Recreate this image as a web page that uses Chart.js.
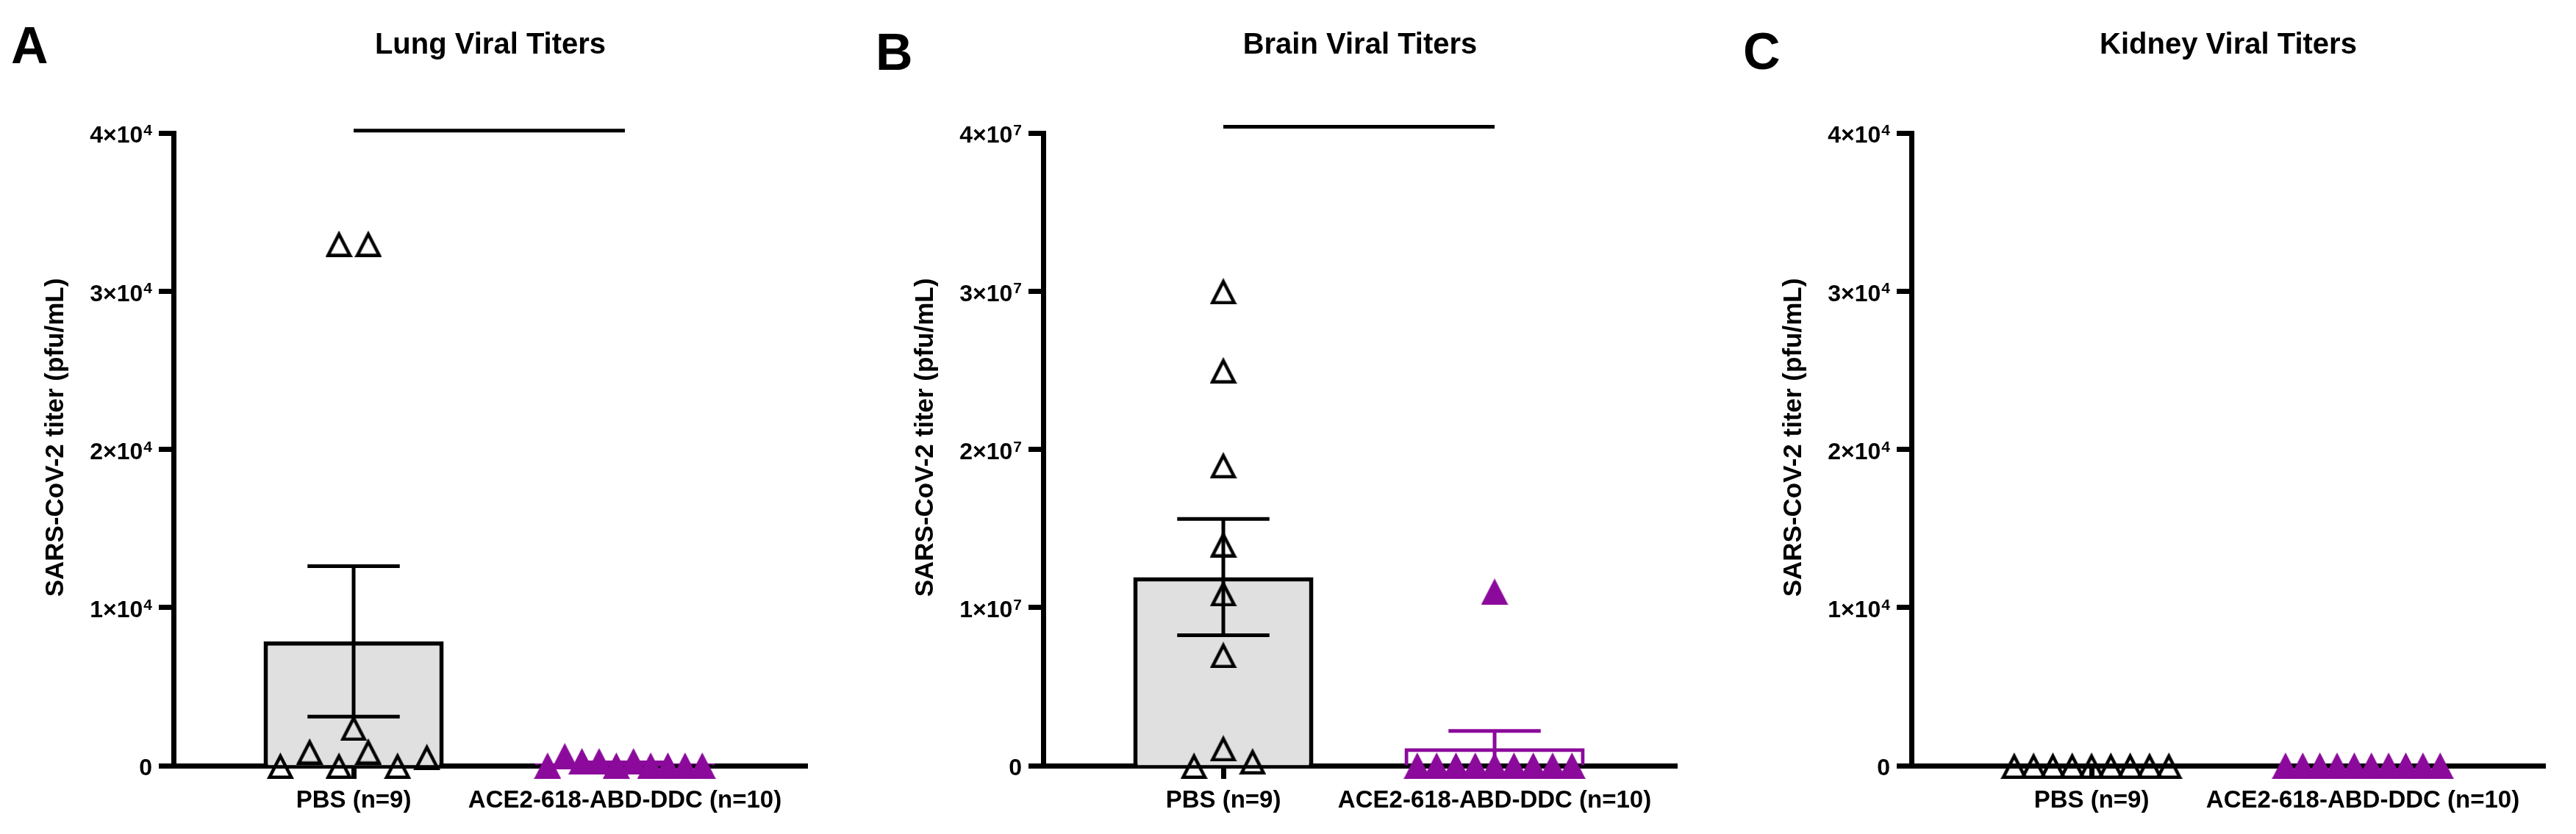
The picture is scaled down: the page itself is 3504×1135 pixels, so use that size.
<!DOCTYPE html>
<html>
<head>
<meta charset="utf-8">
<script src="https://cdn.jsdelivr.net/npm/chart.js@4.4.1/dist/chart.umd.min.js"></script>
<style>
  html, body { margin: 0; padding: 0; background: #fff; width: 3504px; height: 1135px; overflow: hidden; }
  .panel { position: absolute; top: 0; width: 1170px; height: 1135px; }
  .letter { position: absolute; font: bold 70px "Liberation Sans", Arial, sans-serif; line-height: 70px; color: #000; }
</style>
</head>
<body>
<div class="panel" style="left:0px"><canvas id="chartA" width="1170" height="1135"></canvas></div>
<div class="panel" style="left:1183px"><canvas id="chartB" width="1170" height="1135"></canvas></div>
<div class="panel" style="left:2364px"><canvas id="chartC" width="1170" height="1135"></canvas></div>
<div class="letter" style="left:15px;top:27px">A</div>
<div class="letter" style="left:1191px;top:36px">B</div>
<div class="letter" style="left:2371px;top:35px">C</div>
<script>
// ---------------- data ----------------
const categories = ['PBS (n=9)', 'ACE2-618-ABD-DDC (n=10)'];
const panelTitles = ['Lung Viral Titers', 'Brain Viral Titers', 'Kidney Viral Titers'];
const yAxisTitle = 'SARS-CoV-2 titer (pfu/mL)';

const lungPBS  = [0, 900, 0, 900, 0, 550, 2400, 33000, 33000];
const lungACE2 = [0, 600, 280, 280, 0, 280, 0, 0, 0, 0];
const brainPBS  = [30e6, 25e6, 19e6, 14e6, 10.9e6, 7e6, 0, 1.1e6, 0.28e6];
const brainACE2 = [0, 0, 0, 0, 11e6, 0, 0, 0, 0, 0];
const kidneyPBS  = [0, 0, 0, 0, 0, 0, 0, 0, 0];
const kidneyACE2 = [0, 0, 0, 0, 0, 0, 0, 0, 0, 0];

const lungTicks   = ['0', '1×10⁴', '2×10⁴', '3×10⁴', '4×10⁴'];
const brainTicks  = ['0', '1×10⁷', '2×10⁷', '3×10⁷', '4×10⁷'];
const kidneyTicks = ['0', '1×10⁴', '2×10⁴', '3×10⁴', '4×10⁴'];

const axisMax = [4e4, 4e7, 4e4];
const bracketLevel = [40150, 4.04e7, null];   // horizontal comparison line above the groups

// ---------------- styling ----------------
const FONT = '"Liberation Sans", Arial, Helvetica, sans-serif';
const PURPLE = '#8b0a9b';
const BAR_GREY = '#e0e0e0';
const Y_TITLE_SHIFT = -16;

Chart.defaults.font.family = FONT;
Chart.defaults.color = '#000';

// y scale with superscript exponents in tick labels
const SUP = '⁰¹²³⁴⁵⁶⁷⁸⁹';
class SciLinearScale extends Chart.LinearScale {
  static id = 'sciLinear';
  drawLabels(chartArea) {
    const opts = this.options;
    if (!opts.ticks.display) return;
    const ctx = this.ctx;
    const f = Chart.helpers.toFont(opts.ticks.font);
    const supSize = Math.round(f.size * 0.66);
    const items = this.getLabelItems(chartArea);
    ctx.save();
    ctx.fillStyle = '#000';
    ctx.textAlign = 'right';
    ctx.textBaseline = 'alphabetic';
    for (const it of items) {
      const [x, y] = it.options.translation;
      let base = '', sup = '';
      for (const ch of String(it.label)) {
        const k = SUP.indexOf(ch);
        if (k >= 0) sup += k; else base += ch;
      }
      let xr = x;
      if (sup) {
        ctx.font = `bold ${supSize}px ${FONT}`;
        ctx.fillText(sup, xr, y + f.size * 0.1);
        xr -= ctx.measureText(sup).width + 1;
      }
      ctx.font = f.string;
      ctx.fillText(base, xr, y + f.size * 0.42);
    }
    ctx.restore();
  }
  drawTitle() {
    const t = this.options.title;
    if (!t.display) return;
    const ctx = this.ctx;
    const f = Chart.helpers.toFont(t.font);
    const pad = Chart.helpers.toPadding(t.padding);
    const x = this.left + pad.top + f.lineHeight / 2;
    const y = (this.top + this.bottom) / 2 + Y_TITLE_SHIFT;
    ctx.save();
    ctx.translate(x, y);
    ctx.rotate(-Math.PI / 2);
    ctx.font = f.string;
    ctx.fillStyle = '#000';
    ctx.textAlign = 'center';
    ctx.textBaseline = 'middle';
    ctx.fillText(t.text, 0, 0);
    ctx.restore();
  }
}
Chart.register(SciLinearScale);

// triangle markers
function hollowTriangle(W, H, lw, color) {
  const c = document.createElement('canvas');
  c.width = W; c.height = H;
  const g = c.getContext('2d');
  const half = Math.atan((W / 2) / H);
  const top = (lw / 2) / Math.sin(half);
  const side = (lw / 2) / Math.tan((Math.PI / 2 - half) / 2);
  g.beginPath();
  g.moveTo(W / 2, top);
  g.lineTo(W - side, H - lw / 2);
  g.lineTo(side, H - lw / 2);
  g.closePath();
  g.lineJoin = 'miter';
  g.lineWidth = lw;
  g.strokeStyle = color;
  g.stroke();
  return c;
}
function filledTriangle(W, H, color) {
  const c = document.createElement('canvas');
  c.width = W; c.height = H;
  const g = c.getContext('2d');
  g.beginPath();
  g.moveTo(W / 2, 0);
  g.lineTo(W, H);
  g.lineTo(0, H);
  g.closePath();
  g.fillStyle = color;
  g.fill();
  return c;
}
const openTri = hollowTriangle(37, 36, 4.5, '#000');
const fullTri = filledTriangle(37, 36, PURPLE);

// statistics
const mean = a => a.reduce((s, v) => s + v, 0) / a.length;
const sem = a => {
  const m = mean(a);
  const v = a.reduce((s, x) => s + (x - m) * (x - m), 0) / (a.length - 1);
  return Math.sqrt(v) / Math.sqrt(a.length);
};

// GraphPad-like horizontal scatter of points with similar values (category units)
function swarmOffsets(values, band, maxStep, maxSpan) {
  const order = values.map((v, i) => i).sort((a, b) => values[a] - values[b]);
  const groups = [];
  let cur = null;
  for (const i of order) {
    if (cur && values[i] - values[cur[0]] < band) cur.push(i);
    else { cur = [i]; groups.push(cur); }
  }
  const off = values.map(() => 0);
  for (const g of groups) {
    g.sort((a, b) => a - b);
    const n = g.length;
    if (n < 2) continue;
    const step = Math.min(maxStep, maxSpan / (n - 1));
    g.forEach((idx, k) => { off[idx] = (k - (n - 1) / 2) * step; });
  }
  return off;
}

function errorBarData(i, m, s, cap) {
  const pts = [{x: i, y: Math.max(m - s, 0)}, {x: i, y: m + s}, {x: i, y: null},
               {x: i - cap, y: m + s}, {x: i + cap, y: m + s}];
  if (m - s > 0) pts.push({x: i, y: null}, {x: i - cap, y: m - s}, {x: i + cap, y: m - s});
  return pts;
}

function makePanel(canvasId, title, groups, tickLabels, yMax, bracket) {
  const datasets = [];
  const colors = ['#000', PURPLE];
  // bars (means)
  datasets.push({
    type: 'bar',
    data: groups.map((g, i) => ({x: i, y: mean(g)})),
    backgroundColor: [BAR_GREY, 'rgba(255,255,255,0)'],
    borderColor: colors,
    borderWidth: [6, 5],
    barPercentage: 0.664,
    categoryPercentage: 1,
    order: 5
  });
  // error bars (SEM)
  groups.forEach((g, i) => {
    const s = sem(g);
    if (!(s > 0)) return;
    datasets.push({
      type: 'line',
      data: errorBarData(i, mean(g), s, 0.17),
      borderColor: colors[i],
      borderWidth: 5,
      borderCapStyle: 'butt',
      pointRadius: 0,
      fill: false,
      spanGaps: false,
      tension: 0,
      clip: false,
      order: 3
    });
  });
  // comparison bracket
  if (bracket !== null) {
    datasets.push({
      type: 'line',
      data: [{x: 0, y: bracket}, {x: 1, y: bracket}],
      borderColor: '#000',
      borderWidth: 5,
      pointRadius: 0,
      fill: false,
      clip: false,
      order: 4
    });
  }
  // individual points
  groups.forEach((g, i) => {
    const off = swarmOffsets(g, 0.038 * yMax, 0.108, 0.57);
    datasets.push({
      type: 'scatter',
      data: g.map((v, k) => ({x: i + off[k], y: v})),
      pointStyle: i === 0 ? openTri : fullTri,
      pointRadius: 18,
      pointHoverRadius: 18,
      clip: false,
      order: 1
    });
  });

  return new Chart(document.getElementById(canvasId), {
    type: 'scatter',
    data: {datasets},
    options: {
      responsive: false,
      animation: false,
      events: [],
      layout: {padding: {left: 0, right: 72, top: 0, bottom: 0}},
      plugins: {
        legend: {display: false},
        tooltip: {enabled: false},
        title: {
          display: true,
          text: title,
          fullSize: false,
          color: '#000',
          font: {size: 40, weight: 'bold'},
          padding: {top: 38, bottom: 95}
        }
      },
      scales: {
        x: {
          type: 'linear',
          min: -0.664,
          max: 1.672,
          offset: false,
          afterBuildTicks: s => { s.ticks = categories.map((c, i) => ({value: i})); },
          afterFit: s => { s.height = 93; },
          ticks: {
            autoSkip: false, maxRotation: 0, minRotation: 0, padding: 10,
            color: '#000',
            font: {size: 33, weight: 'bold'},
            callback: v => categories[Math.round(v)]
          },
          grid: {display: true, drawOnChartArea: false, drawTicks: true, tickLength: 18,
                 tickWidth: 7, tickColor: '#000', offset: false},
          border: {display: true, width: 7, color: '#000'}
        },
        y: {
          type: 'sciLinear',
          min: 0,
          max: yMax,
          afterFit: s => { s.width = 236; },
          ticks: {
            stepSize: yMax / 4,
            padding: 9,
            color: '#000',
            font: {size: 32, weight: 'bold'},
            callback: (v, i) => tickLabels[i]
          },
          grid: {display: true, drawOnChartArea: false, drawTicks: true, tickLength: 20,
                 tickWidth: 7, tickColor: '#000'},
          border: {display: true, width: 7, color: '#000'},
          title: {
            display: true,
            text: yAxisTitle,
            color: '#000',
            font: {size: 35, weight: 'bold'},
            padding: {top: 55, bottom: 0}
          }
        }
      }
    }
  });
}

makePanel('chartA', panelTitles[0], [lungPBS, lungACE2], lungTicks, axisMax[0], bracketLevel[0]);
makePanel('chartB', panelTitles[1], [brainPBS, brainACE2], brainTicks, axisMax[1], bracketLevel[1]);
makePanel('chartC', panelTitles[2], [kidneyPBS, kidneyACE2], kidneyTicks, axisMax[2], bracketLevel[2]);
</script>
</body>
</html>
